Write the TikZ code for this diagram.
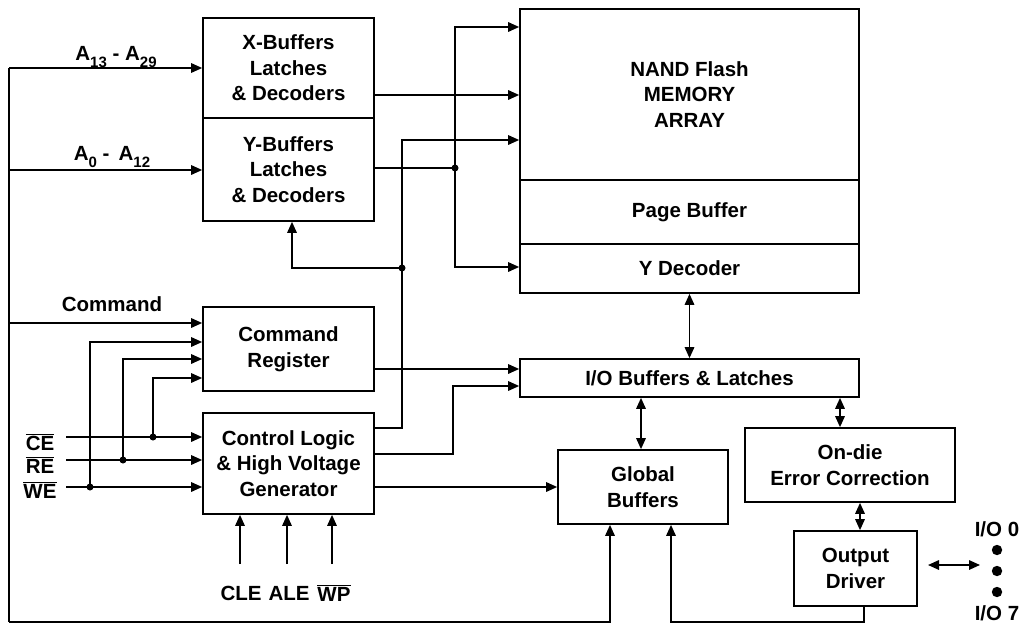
\documentclass[tikz,border=0pt]{standalone}
\usepackage{fontspec}
\setmainfont{Liberation Sans}[BoldFont={Liberation Sans Bold}]
\newfontfamily\boldsans{Liberation Sans Bold}
\usetikzlibrary{arrows.meta,calc}
\newcommand{\sbs}[1]{\raisebox{-0.3em}{\fontsize{15}{15}\selectfont #1}}
\begin{document}
\begin{tikzpicture}[x=1pt,y=-1pt,
  txt/.style={font=\boldsans\fontsize{20.5}{25.5}\selectfont, inner sep=0pt, align=center},
  box/.style={txt, draw, line width=1.7pt},
  wire/.style={line width=1.6pt},
  tip/.tip={Triangle[length=11pt,width=9.5pt]},
  arr/.style={wire, -tip},
  darr/.style={wire, tip-tip},
  jdot/.style={fill=black}]
\useasboundingbox (0,0) rectangle (1025,626);

% boxes
\node[box, minimum width=171pt, minimum height=100pt] (xbuf) at (288.5,68) {X-Buffers\\Latches\\\& Decoders};
\node[box, minimum width=171pt, minimum height=103pt] (ybuf) at (288.5,169.5) {Y-Buffers\\Latches\\\& Decoders};
\node[box, minimum width=171pt, minimum height=84pt] (cmd) at (288.5,349) {Command\\Register};
\node[box, minimum width=171pt, minimum height=101pt] (ctrl) at (288.5,463.5) {Control Logic\\\& High Voltage\\Generator};
\node[box, minimum width=339pt, minimum height=171pt] (mem) at (689.5,94.5) {NAND Flash\\MEMORY\\ARRAY};
\node[box, minimum width=339pt, minimum height=64pt] (page) at (689.5,212) {Page Buffer};
\node[box, minimum width=339pt, minimum height=49pt] (ydec) at (689.5,268.5) {Y Decoder};
\node[box, minimum width=339pt, minimum height=38pt] (iob) at (689.5,378) {I/O Buffers \& Latches};
\node[box, minimum width=170pt, minimum height=74pt] (glob) at (643,487) {Global\\Buffers};
\node[box, minimum width=210pt, minimum height=74pt] (ecc) at (850,465) {On-die\\Error Correction};
\node[box, minimum width=123pt, minimum height=75pt] (outd) at (855.5,568.5) {Output\\Driver};

% labels
\node[txt] (la13) at (116,57) {A\sbs{13} - A\sbs{29}};
\node[txt] (la0) at (112,157) {A\sbs{0} -\, A\sbs{12}};
\node[txt] (lcmd) at (112,304) {Command};
\node[txt] (lce) at (40,442) {$\overline{\mbox{CE}}$};
\node[txt] (lre) at (40,465) {$\overline{\mbox{RE}}$};
\node[txt] (lwe) at (40,490) {$\overline{\mbox{WE}}$};
\node[txt] (lcle) at (241,593) {CLE};
\node[txt] (lale) at (289,593) {ALE};
\node[txt] (lwp) at (334,593) {$\overline{\mbox{WP}}$};
\node[txt] (lio0) at (997,529) {I/O 0};
\node[txt] (lio7) at (997,613) {I/O 7};
\foreach \yy in {550,571,592} \fill (997,\yy) circle (5.2);

% left address / command bus
\coordinate (a13) at (9,68);
\coordinate (a0) at (9,170);
\coordinate (cmdin) at (9,323);
\coordinate (bl) at (9,622);
\coordinate (gb1) at (610,622);
\draw[wire] (a13) -- (bl);
\draw[arr] (a13) -- (a13 -| xbuf.west);
\draw[arr] (a0) -- (a0 -| ybuf.west);
\draw[arr] (cmdin) -- (cmdin -| cmd.west);
\draw[arr] (bl) -- (gb1) -- (gb1 |- glob.south);

% X-buffer output
\coordinate (xo) at (450,95);
\draw[arr] (xo -| xbuf.east) -- (xo -| mem.west);

% Y-buffer output
\coordinate (jy) at (455,168);
\coordinate (jyt) at (455,27);
\coordinate (jyb) at (455,267);
\draw[wire] (jy -| ybuf.east) -- (jy);
\draw[arr] (jy) -- (jyt) -- (jyt -| mem.west);
\draw[arr] (jy) -- (jyb) -- (jyb -| ydec.west);
\fill (jy) circle (3.5);

% control logic output 1
\coordinate (c1) at (402,428);
\coordinate (c1t) at (402,140);
\coordinate (jc) at (402,268);
\coordinate (yb) at (292,268);
\draw[arr] (c1 -| ctrl.east) -- (c1) -- (c1t) -- (c1t -| mem.west);
\draw[arr] (jc) -- (yb) -- (yb |- ybuf.south);
\fill (jc) circle (3.5);

% command register output
\coordinate (co) at (450,369);
\draw[arr] (co -| cmd.east) -- (co -| iob.west);

% control logic output 2
\coordinate (c2) at (453,454);
\coordinate (c2t) at (453,386);
\draw[arr] (c2 -| ctrl.east) -- (c2) -- (c2t) -- (c2t -| iob.west);

% control logic output 3
\draw[arr] (ctrl.east |- glob.west) -- (glob.west);

% CE RE WE
\coordinate (cein) at (66,437);
\coordinate (rein) at (66,460);
\coordinate (wein) at (66,487);
\draw[arr] (cein) -- (cein -| ctrl.west);
\draw[arr] (rein) -- (rein -| ctrl.west);
\draw[arr] (wein) -- (wein -| ctrl.west);
\coordinate (jce) at (153,437);
\coordinate (jcet) at (153,378);
\coordinate (jre) at (123,460);
\coordinate (jret) at (123,359);
\coordinate (jwe) at (90,487);
\coordinate (jwet) at (90,342);
\draw[arr] (jce) -- (jcet) -- (jcet -| cmd.west);
\draw[arr] (jre) -- (jret) -- (jret -| cmd.west);
\draw[arr] (jwe) -- (jwet) -- (jwet -| cmd.west);
\fill (jce) circle (3.5);
\fill (jre) circle (3.5);
\fill (jwe) circle (3.5);

% CLE ALE WP
\coordinate (cle) at (240,564);
\coordinate (ale) at (287,564);
\coordinate (wp) at (332,564);
\draw[arr] (cle) -- (cle |- ctrl.south);
\draw[arr] (ale) -- (ale |- ctrl.south);
\draw[arr] (wp) -- (wp |- ctrl.south);

% data path
\draw[darr] (ydec.south) -- (iob.north);
\coordinate (d2) at (641,420);
\draw[darr] (d2 |- iob.south) -- (d2 |- glob.north);
\coordinate (d3) at (840,410);
\draw[darr] (d3 |- iob.south) -- (d3 |- ecc.north);
\coordinate (d4) at (860,515);
\draw[darr] (d4 |- ecc.south) -- (d4 |- outd.north);
\coordinate (d5) at (864,622);
\coordinate (gb2) at (671,622);
\draw[arr] (d5 |- outd.south) -- (d5) -- (gb2) -- (gb2 |- glob.south);
\coordinate (io) at (980,565);
\coordinate (iol) at (928,565);
\draw[darr] (iol) -- (io);
\end{tikzpicture}
\end{document}
